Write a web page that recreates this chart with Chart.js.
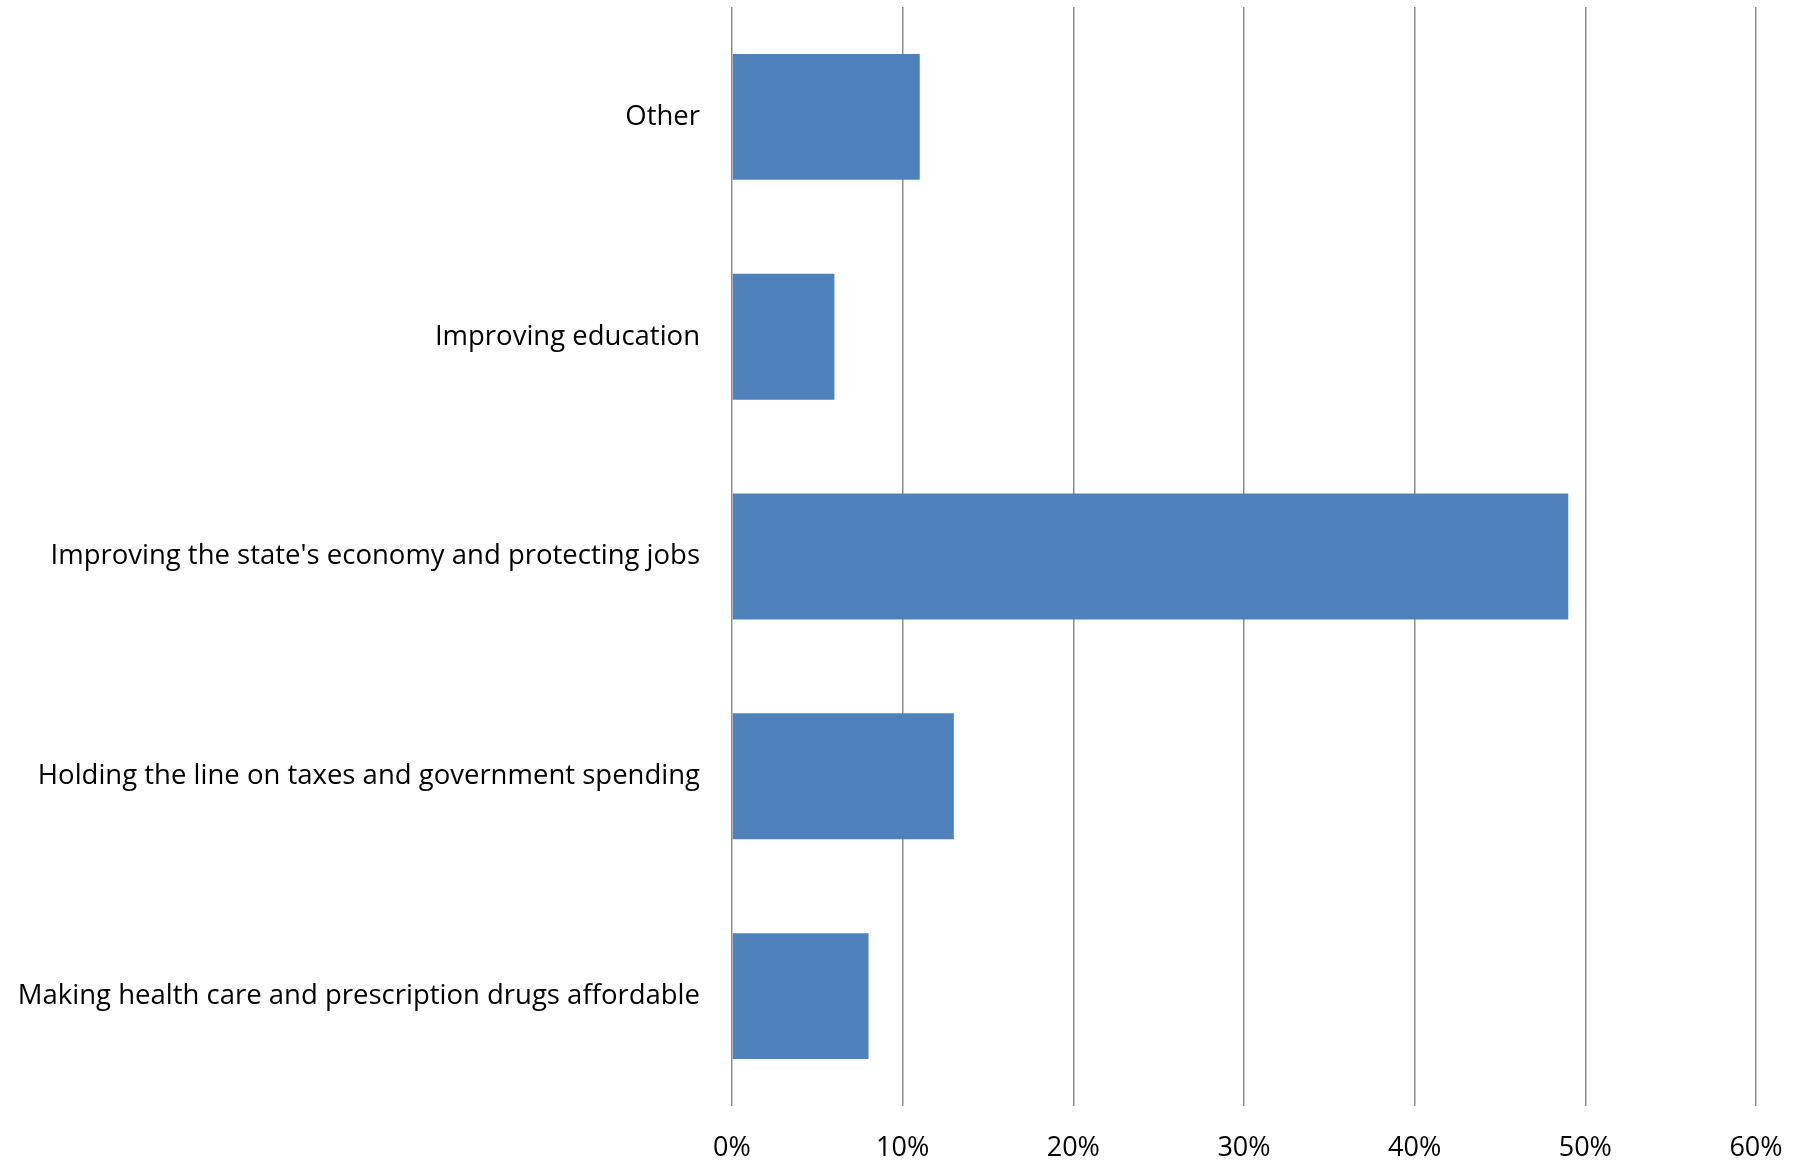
<!DOCTYPE html>
<html>
<head>
<meta charset="utf-8">
<script src="https://cdn.jsdelivr.net/npm/chart.js@4"></script>
<style>
  html, body { margin: 0; padding: 0; background: #fff; }
  #wrap { width: 1803px; height: 1164px; }
</style>
</head>
<body>
<div id="wrap"><canvas id="chart" width="1803" height="1164"></canvas></div>
<script>
// categories, top to bottom as in the picture
const categories = [
    "Other",
    "Improving education",
    "Improving the state's economy and protecting jobs",
    "Holding the line on taxes and government spending",
    "Making health care and prescription drugs affordable"
];
const shares = [11, 6, 49, 13, 8]; // percent
const tickMax = 60;
const tickStep = 10;

const ctx = document.getElementById('chart').getContext('2d');
new Chart(ctx, {
    type: 'bar',
    data: {
        labels: categories,
        datasets: [{
            data: shares,
            backgroundColor: '#4F81BD',
            borderWidth: 0,
            categoryPercentage: 1,
            barPercentage: 0.573
        }]
    },
    options: {
        indexAxis: 'y',
        responsive: false,
        animation: false,
        layout: { padding: { top: 7, right: 47, left: 0, bottom: 0 } },
        plugins: {
            legend: { display: false },
            tooltip: { enabled: false }
        },
        scales: {
            x: {
                min: 0,
                max: tickMax,
                ticks: {
                    stepSize: tickStep,
                    color: '#000',
                    font: { family: 'Open Sans', size: 27 },
                    padding: 26,
                    callback: v => v + '%'
                },
                grid: { color: '#8c8c8c', lineWidth: 1.5, drawTicks: false },
                border: { display: false },
                afterFit: s => {
                    s.height = 58;
                    s.paddingLeft = 0;
                    s.paddingRight = 0;
                }
            },
            y: {
                ticks: {
                    color: '#000',
                    font: { family: 'Open Sans', size: 27.5 },
                    padding: 24
                },
                grid: { display: false },
                border: { display: false },
                afterFit: s => {
                    s.width = 732;
                    // no extra room above / below for half label heights
                    s.paddingTop = 0;
                    s.paddingBottom = 0;
                }
            }
        }
    }
});
</script>
</body>
</html>
